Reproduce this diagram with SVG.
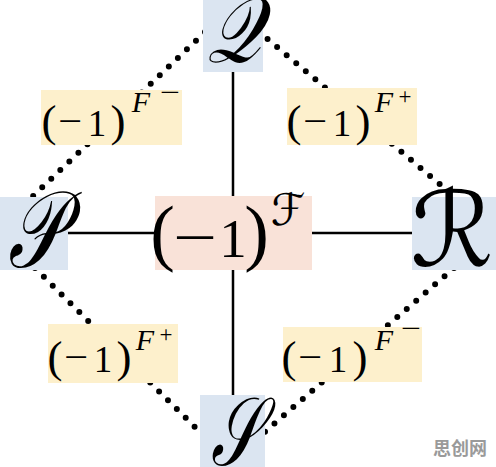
<svg xmlns="http://www.w3.org/2000/svg" width="496" height="467" viewBox="0 0 496 467">
<style>
.bg{fill:#ffffff}
.blue{fill:#dbe5f1}
.yel{fill:#fdf0cc}
.red{fill:#f9e2d8}
.m{font-family:"Liberation Serif",serif;fill:#000;text-anchor:middle}
.it{font-family:"Liberation Serif",serif;font-style:italic;fill:#000;text-anchor:middle}
.sc{font-family:"DejaVu Serif","DejaVu Sans",serif;font-style:italic;fill:#000;text-anchor:middle}
.dot{stroke:#000;stroke-width:6;stroke-linecap:round;stroke-dasharray:0 12.5;fill:none}
.solid{stroke:#000;stroke-width:2.5;fill:none}
.p{font-size:45px}
.mi{font-size:36px}
.one{font-size:37px}
.F{font-size:30px}
.sg{font-size:23px}
.wm{font-family:"Noto Sans CJK SC",sans-serif;font-weight:bold;font-size:18px;fill:#9a9a9a}
</style>
<rect class="bg" x="0" y="0" width="496" height="467"/>
<g id="connectors">
<line class="solid" x1="233" y1="72" x2="233" y2="395"/>
<line class="solid" x1="68" y1="233" x2="412" y2="233"/>
<line class="dot" x1="205" y1="32" x2="30" y2="199"/>
<line class="dot" x1="258" y1="31" x2="455" y2="197"/>
<line class="dot" x1="35" y1="268" x2="205" y2="437"/>
<line class="dot" x1="454" y1="268" x2="260" y2="436"/>
</g>
<g id="Q">
<rect class="blue" x="203" y="0" width="60" height="72"/>
<text class="sc" transform="translate(234,62) scale(0.82,1)" font-size="92">𝒬</text>
</g>
<g id="P">
<rect class="blue" x="0" y="197" width="68" height="73"/>
<text class="sc" transform="translate(35,267) scale(0.7,1)" font-size="108">𝒫</text>
</g>
<g id="R">
<rect class="blue" x="412" y="197" width="84" height="73"/>
<text class="sc" transform="translate(452,266)" font-size="104">ℛ</text>
</g>
<g id="S">
<rect class="blue" x="200" y="395" width="65" height="72"/>
<text class="sc" transform="translate(236,465) scale(0.66,1)" font-size="96">𝒮</text>
</g>
<g id="center">
<rect class="red" x="155" y="196" width="157" height="74"/>
<text class="m" x="162.5" y="257" font-size="74">(</text>
<text class="m" x="195" y="257" font-size="58" textLength="44" lengthAdjust="spacingAndGlyphs">−</text>
<text class="m" x="233" y="257" font-size="55">1</text>
<text class="m" x="256.5" y="257" font-size="74">)</text>
<text class="sc" x="288" y="225" font-size="44">ℱ</text>
</g>
<g id="label-tl">
<rect class="yel" x="41" y="90" width="141" height="55"/>
<g transform="translate(42,136)">
<text class="m p" x="7" y="0">(</text>
<text class="m mi" x="28" y="-3" textLength="24" lengthAdjust="spacingAndGlyphs">−</text>
<text class="m one" x="55" y="0">1</text>
<text class="m p" x="76" y="0">)</text>
<text class="it F" x="99" y="-24">F</text>
<text class="m sg" x="128" y="-36" textLength="20" lengthAdjust="spacingAndGlyphs">−</text>
</g>
</g>
<g id="label-tr">
<rect class="yel" x="287" y="88" width="130" height="57"/>
<g transform="translate(287,136)">
<text class="m p" x="7" y="0">(</text>
<text class="m mi" x="28" y="-3" textLength="24" lengthAdjust="spacingAndGlyphs">−</text>
<text class="m one" x="55" y="0">1</text>
<text class="m p" x="76" y="0">)</text>
<text class="it F" x="97" y="-24">F</text>
<text class="m sg" x="118" y="-32">+</text>
</g>
</g>
<g id="label-bl">
<rect class="yel" x="48" y="324" width="130" height="59"/>
<g transform="translate(48,372)">
<text class="m p" x="7" y="0">(</text>
<text class="m mi" x="28" y="-3" textLength="24" lengthAdjust="spacingAndGlyphs">−</text>
<text class="m one" x="55" y="0">1</text>
<text class="m p" x="76" y="0">)</text>
<text class="it F" x="97" y="-22">F</text>
<text class="m sg" x="118" y="-30">+</text>
</g>
</g>
<g id="label-br">
<rect class="yel" x="283" y="327" width="139" height="55"/>
<g transform="translate(282,372)">
<text class="m p" x="7" y="0">(</text>
<text class="m mi" x="28" y="-3" textLength="24" lengthAdjust="spacingAndGlyphs">−</text>
<text class="m one" x="56" y="0">1</text>
<text class="m p" x="78" y="0">)</text>
<text class="it F" x="102" y="-22">F</text>
<text class="m sg" x="129" y="-36" textLength="20" lengthAdjust="spacingAndGlyphs">−</text>
</g>
</g>
<text class="wm" x="433" y="455">思创网</text>
</svg>
